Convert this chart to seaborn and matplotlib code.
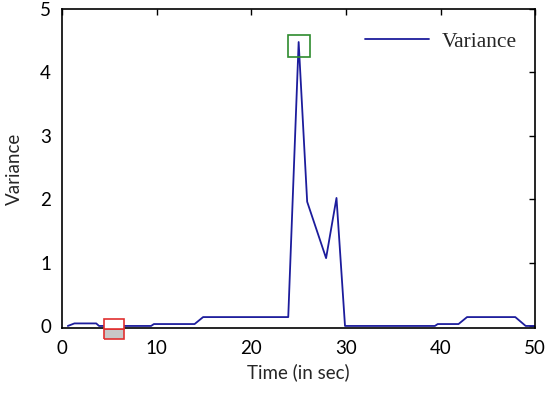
import pandas as pd
import matplotlib.pyplot as plt
import seaborn as sns

# values
time_s = [0.6, 1.3, 3.6, 3.9, 9.4, 9.7, 14.0, 14.9, 23.9, 25.0, 25.9, 27.9,
          29.0, 29.9, 39.4, 39.7, 41.9, 42.8, 47.9, 49.0, 50.0]
variance = [0.0, 0.04, 0.04, 0.0, 0.0, 0.03, 0.03, 0.14, 0.14, 4.48, 1.96, 1.07,
            2.02, 0.0, 0.0, 0.03, 0.03, 0.14, 0.14, 0.0, 0.0]

# highlighted points (min region and peak)
min_mark = (5.5, -0.05)
max_mark = (25.0, 4.42)

df = pd.DataFrame({"Time": time_s, "Variance": variance})

sns.set_style("white")
plt.rcParams["font.family"] = ["Lato", "DejaVu Sans"]

fig, ax = plt.subplots(figsize=(5.5, 3.95), dpi=100)
fig.subplots_adjust(left=0.113, right=0.973, bottom=0.17, top=0.977)

sns.lineplot(data=df, x="Time", y="Variance", ax=ax, color="#1c1c9c",
             linewidth=1.3, label="Variance")

ax.plot(*max_mark, marker="s", markersize=16, markerfacecolor="none",
        markeredgecolor="#2e8b2e", markeredgewidth=1.2, clip_on=False)
ax.plot(*min_mark, marker="s", markersize=14, fillstyle="bottom",
        markerfacecolor="#c8c8c8", markerfacecoloralt="white",
        markeredgecolor="#e03030", markeredgewidth=1.2, clip_on=False, zorder=5)

ax.set_xlim(0, 50)
ax.set_ylim(-0.03, 5)
ax.set_xticks([0, 10, 20, 30, 40, 50])
ax.set_yticks([0, 1, 2, 3, 4, 5])
ax.tick_params(direction="in", length=4, width=1, top=True, right=True,
               labelsize=13.5, colors="black")
ax.tick_params(axis="x", pad=9)
ax.tick_params(axis="y", pad=8)
for s in ax.spines.values():
    s.set_color("black")
    s.set_linewidth(1.2)

ax.set_xlabel("Time (in sec)", fontsize=13.5, labelpad=4)
ax.set_ylabel("Variance", fontsize=13.5, labelpad=12)

leg = ax.legend(loc="upper right", frameon=False, handlelength=3.0,
                handletextpad=0.6,
                prop={"family": "Liberation Serif", "size": 15.5},
                bbox_to_anchor=(1.003, 0.99))

plt.savefig("out.png", dpi=100)
